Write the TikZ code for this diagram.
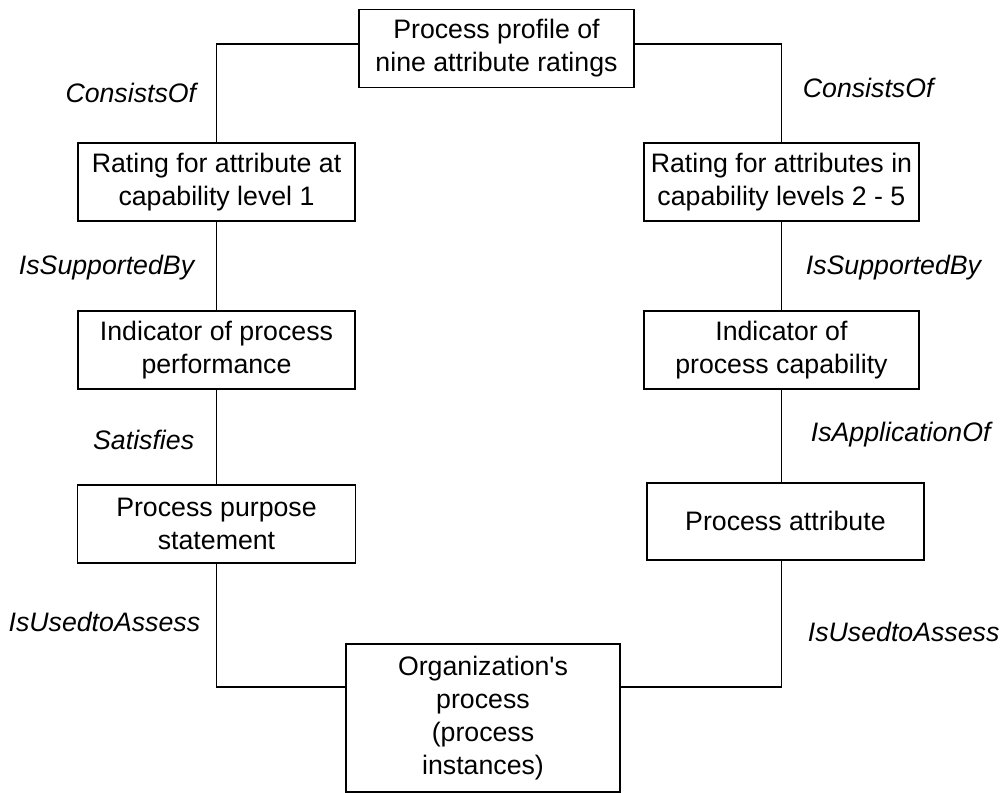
\documentclass[tikz,border=0pt]{standalone}
\usepackage{fontspec}
\setmainfont{Liberation Sans}
\usetikzlibrary{positioning}

\begin{document}
\begin{tikzpicture}[font=\fontsize{15.2}{18.8}\selectfont,line width=1pt,every node/.style={align=center},
  item/.style={draw,line width=1.1pt,minimum width=5.5cm,minimum height=1.56cm,inner sep=0pt},
  link/.style={inner sep=0pt,font=\fontsize{15.2}{18.8}\selectfont\itshape}]
  \useasboundingbox (0,0) rectangle (20,-15.86);
  % boxes
  \node[item] (prof) at (9.93,-0.97) {Process profile of\\nine attribute ratings};
  \node[item,minimum width=5.54cm] (rate1) at (4.33,-3.64) {Rating for attribute at\\capability level 1};
  \node[item,right=5.74cm of rate1] (rate2) {Rating for attributes in\\capability levels 2 - 5};
  \node[item,minimum width=5.54cm,below=1.76cm of rate1] (perf) {Indicator of process\\performance};
  \node[item,below=1.76cm of rate2] (capab) {Indicator of\\process capability};
  \node[item,minimum width=5.56cm,below=1.88cm of perf] (purp) {Process purpose\\statement};
  \node[item,minimum width=5.54cm,minimum height=1.54cm,below=1.84cm of capab,xshift=0.08cm] (attr) {Process attribute};
  \node[item,minimum width=5.48cm,minimum height=2.96cm] (org) at (9.66,-14.36) {Organization\textquotesingle s\\process\\(process\\instances)};
  % connectors
  \draw ([yshift=0.09cm]prof.west) -| (rate1.north);
  \draw ([yshift=0.09cm]prof.east) -| (rate2.north);
  \draw (rate1)--(perf);\draw (perf)--(purp);
  \draw (rate2)--(capab);\draw (capab.south)--(capab.south |- attr.north);
  \draw (purp.south) |- ([yshift=0.62cm]org.west);
  \draw (capab.south |- attr.south) |- ([yshift=0.62cm]org.east);
  % relation names
  \node[link,anchor=east] (cons1) at (3.94,-1.86) {ConsistsOf};
  \node[link,anchor=west] (cons2) at (16.04,-1.76) {ConsistsOf};
  \node[link,anchor=east] (supp1) at (3.90,-5.36) {IsSupportedBy};
  \node[link,anchor=west] (supp2) at (16.10,-5.36) {IsSupportedBy};
  \node[link,anchor=east] (sat) at (3.90,-8.80) {Satisfies};
  \node[link,anchor=west] (appl) at (16.20,-8.70) {IsApplicationOf};
  \node[link,anchor=east] (used1) at (4.02,-12.44) {IsUsedtoAssess};
  \node[link,anchor=west] (used2) at (16.14,-12.64) {IsUsedtoAssess};
\end{tikzpicture}
\end{document}
